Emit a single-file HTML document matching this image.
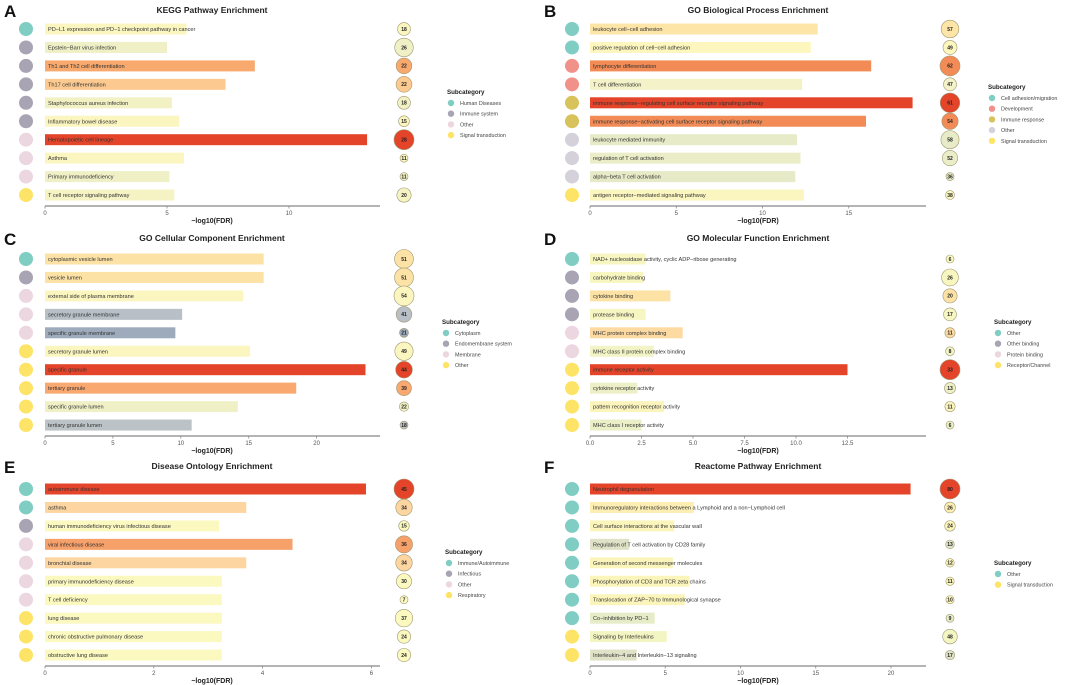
<!DOCTYPE html>
<html><head><meta charset="utf-8">
<style>
html,body{margin:0;padding:0;background:#fff;}
svg{display:block;font-family:"Liberation Sans",Arial,sans-serif;}
</style></head>
<body>
<svg id="fig" width="1080" height="685" viewBox="0 0 1080 685" xmlns="http://www.w3.org/2000/svg"></svg>
<script>
// ---- Panel A: KEGG ----
const aTerms=["PD−L1 expression and PD−1 checkpoint pathway in cancer","Epstein−Barr virus infection","Th1 and Th2 cell differentiation","Th17 cell differentiation","Staphylococcus aureus infection","Inflammatory bowel disease","Hematopoietic cell lineage","Asthma","Primary immunodeficiency","T cell receptor signaling pathway"];
const aValues=[5.8,5.0,8.6,7.4,5.2,5.5,13.2,5.7,5.1,5.3];
const aCounts=[18,26,22,22,18,15,28,11,11,20];
const aCats=[0,1,1,1,1,1,2,2,2,3];
const aCatNames=["Human Diseases","Immune system","Other","Signal transduction"];
const aTicks=[0,5,10];
// ---- Panel B: GO BP ----
const bTerms=["leukocyte cell−cell adhesion","positive regulation of cell−cell adhesion","lymphocyte differentiation","T cell differentiation","immune response−regulating cell surface receptor signaling pathway","immune response−activating cell surface receptor signaling pathway","leukocyte mediated immunity","regulation of T cell activation","alpha−beta T cell activation","antigen receptor−mediated signaling pathway"];
const bValues=[13.2,12.8,16.3,12.3,18.7,16.0,12.0,12.2,11.9,12.4];
const bCounts=[57,49,62,47,61,54,58,52,36,38];
const bCats=[0,0,1,1,2,2,3,3,3,4];
const bCatNames=["Cell adhesion/migration","Development","Immune response","Other","Signal transduction"];
const bTicks=[0,5,10,15];
// ---- Panel C: GO CC ----
const cTerms=["cytoplasmic vesicle lumen","vesicle lumen","external side of plasma membrane","secretory granule membrane","specific granule membrane","secretory granule lumen","specific granule","tertiary granule","specific granule lumen","tertiary granule lumen"];
const cValues=[16.1,16.1,14.6,10.1,9.6,15.1,23.6,18.5,14.2,10.8];
const cCounts=[51,51,54,41,21,49,44,39,22,18];
const cCats=[0,1,2,2,2,3,3,3,3,3];
const cCatNames=["Cytoplasm","Endomembrane system","Membrane","Other"];
const cTicks=[0,5,10,15,20];
// ---- Panel D: GO MF ----
const dTerms=["NAD+ nucleosidase activity, cyclic ADP−ribose generating","carbohydrate binding","cytokine binding","protease binding","MHC protein complex binding","MHC class II protein complex binding","immune receptor activity","cytokine receptor activity","pattern recognition receptor activity","MHC class I receptor activity"];
const dValues=[2.7,2.6,3.9,2.7,4.5,3.1,12.5,2.3,3.6,2.5];
const dCounts=[6,26,20,17,11,8,33,13,11,6];
const dCats=[0,1,1,1,2,2,3,3,3,3];
const dCatNames=["Other","Other binding","Protein binding","Receptor/Channel"];
const dTicks=[0,2.5,5,7.5,10,12.5];
// ---- Panel E: DO ----
const eTerms=["autoimmune disease","asthma","human immunodeficiency virus infectious disease","viral infectious disease","bronchial disease","primary immunodeficiency disease","T cell deficiency","lung disease","chronic obstructive pulmonary disease","obstructive lung disease"];
const eValues=[5.9,3.7,3.2,4.55,3.7,3.25,3.25,3.25,3.25,3.25];
const eCounts=[45,34,15,36,34,30,7,37,24,24];
const eCats=[0,0,1,2,2,2,2,3,3,3];
const eCatNames=["Immune/Autoimmune","Infectious","Other","Respiratory"];
const eTicks=[0,2,4,6];
// ---- Panel F: Reactome ----
const fTerms=["Neutrophil degranulation","Immunoregulatory interactions between a Lymphoid and a non−Lymphoid cell","Cell surface interactions at the vascular wall","Regulation of T cell activation by CD28 family","Generation of second messenger molecules","Phosphorylation of CD3 and TCR zeta chains","Translocation of ZAP−70 to Immunological synapse","Co−inhibition by PD−1","Signaling by Interleukins","Interleukin−4 and Interleukin−13 signaling"];
const fValues=[21.3,6.9,5.6,2.6,5.5,6.6,6.3,4.3,5.1,3.1];
const fCounts=[80,26,24,13,12,11,10,9,48,17];
const fCats=[0,0,0,0,0,0,0,0,1,1];
const fCatNames=["Other","Signal transduction"];
const fTicks=[0,5,10,15,20];

// fill styles per bar (colour scale as rendered in reference)
const aFill=["#fbf6c0","#eff0c6","#f7a96e","#fcca90","#f2f1c4","#fbf6bf","#e3442a","#fbf6bf","#eff0c6","#f5f3c4"];
const bFill=["#fde5a8","#fdf6be","#f38b56","#f3f2c8","#e3442a","#f38b56","#e7ebc7","#eaedc7","#e6eac6","#fbf6c0"];
const cFill=["#fde2a6","#fde2a6","#fbf6c0","#b8bfc7","#9eabbd","#fbf6c0","#e3442a","#f9a870","#f0f0c6","#bcc3c6"];
const dFill=["#f8f6c0","#f8f6c0","#fde2a6","#f6f6c2","#fddaa2","#f2f4c5","#e3442a","#edf0c6","#fbf4bd","#eaefc7"];
const eFill=["#e3442a","#fdd5a0","#fbf8c0","#f6a06a","#fdd5a0","#fbf8c0","#fbf8c0","#fbf8c0","#fbf8c0","#fbf8c0"];
const fFill=["#e3442a","#fdeeb3","#fbf5bb","#dfe2c6","#fbf5bb","#fbf5bb","#fbf5bb","#e6ecc8","#f3f5c2","#dfe2c6"];

const NS="http://www.w3.org/2000/svg";
const svg=document.getElementById('fig');
function mk(tag,attrs,parent){const e=document.createElementNS(NS,tag);for(const k in attrs)e.setAttribute(k,attrs[k]);(parent||svg).appendChild(e);return e;}

const catPal={
 "Human Diseases":"#80cdc3","Immune system":"#a9a4b4","Other":"#ecd6e0","Signal transduction":"#fde467",
 "Cell adhesion/migration":"#80cdc3","Development":"#f0918a","Immune response":"#d8c25c",
 "Cytoplasm":"#80cdc3","Endomembrane system":"#a9a4b4","Membrane":"#ecd6e0",
 "Other binding":"#a9a4b4","Protein binding":"#ecd6e0","Receptor/Channel":"#fde467",
 "Immune/Autoimmune":"#80cdc3","Infectious":"#a9a4b4","Respiratory":"#fde467"};
function catColor(name,panel){
  if(panel==='B'&&name==='Other')return '#d5d1db';
  if(panel==='C'&&name==='Other')return '#fde467';
  if((panel==='D'||panel==='F')&&name==='Other')return '#80cdc3';
  return catPal[name];
}

function panel(cfg){
  const g=mk('g',{});
  
  
  const L=mk('text',{x:cfg.ox+4,y:cfg.oy+17,'font-size':17,'font-weight':'bold',fill:'#111'},g);
  L.textContent=cfg.letter;
  
  
  const T=mk('text',{x:cfg.titleX,y:cfg.oy+13,'font-size':8.5,'font-weight':'bold','text-anchor':'middle',fill:'#222'},g);
  T.textContent=cfg.title;
  
  
  const sx=v=>cfg.x0+v*cfg.ppu;
  const sy=i=>cfg.oy+cfg.row0+i*18.45;
  const cmin=Math.min(...cfg.counts),cmax=Math.max(...cfg.counts);
  const cr=c=>4+6*(c-cmin)/Math.max(1,(cmax-cmin));
  cfg.terms.forEach((t,i)=>{
    const y=sy(i);
    const cc=mk('circle',{cx:cfg.catX,cy:y,r:7,fill:catColor(cfg.catNames[cfg.cats[i]],cfg.letter)},g);
    
    
    const b=mk('rect',{x:sx(0),y:y-5.5,width:sx(cfg.values[i])-sx(0),height:11,fill:cfg.fill[i]},g);
    
    
    const lt=mk('text',{x:sx(0)+3,y:y+2,'font-size':5.6,fill:'#333'},g);
    lt.textContent=t;
    
    
    const r=cr(cfg.counts[i]);
    const bc=mk('circle',{cx:cfg.cntX,cy:y,r:r,fill:cfg.fill[i],stroke:'#9f9870','stroke-width':0.6},g);
    
    
    const ct=mk('text',{x:cfg.cntX,y:y+1.8,'font-size':5,'font-weight':'bold','text-anchor':'middle',fill:'#222'},g);
    ct.textContent=cfg.counts[i];
    
    
  });
  const ay=cfg.oy+cfg.axisY;
  const ax=mk('line',{x1:sx(0),x2:cfg.axisEnd,y1:ay,y2:ay,stroke:'#888','stroke-width':1.2},g);
  
  
  cfg.ticks.forEach(tv=>{
    const tk=mk('line',{x1:sx(tv),x2:sx(tv),y1:ay,y2:ay+2.5,stroke:'#888','stroke-width':0.8},g);
    
    
    const tl=mk('text',{x:sx(tv),y:ay+9,'font-size':6,'text-anchor':'middle',fill:'#555'},g);
    tl.textContent=cfg.tickFmt?tv.toFixed(1):tv;
    
    
  });
  const xt=mk('text',{x:cfg.titleX,y:ay+17,'font-size':7,'font-weight':'bold','text-anchor':'middle',fill:'#222'},g);
  xt.textContent='−log10(FDR)';
  
  
  const ly=cfg.oy+cfg.legY;
  const lg=mk('text',{x:cfg.legX,y:ly,'font-size':6.2,'font-weight':'bold',fill:'#222'},g);
  lg.textContent='Subcategory';
  
  
  cfg.catNames.forEach((n,k)=>{
    const yy=ly+11+k*10.7;
    const d=mk('circle',{cx:cfg.legX+4,cy:yy-2,r:3.2,fill:catColor(n,cfg.letter)},g);
    
    
    const lt=mk('text',{x:cfg.legX+13,y:yy,'font-size':5.4,fill:'#444'},g);
    lt.textContent=n;
    
    
  });
}
const L={catX:26,x0:45,cntX:404,titleX:212};
const R={catX:572,x0:590,cntX:950,titleX:758};
panel({letter:'A',title:'KEGG Pathway Enrichment',ox:0,oy:0,...L,ppu:24.4,axisEnd:380,row0:29,axisY:206,legX:447,legY:94,ticks:aTicks,terms:aTerms,values:aValues,counts:aCounts,cats:aCats,catNames:aCatNames,fill:aFill});
panel({letter:'B',title:'GO Biological Process Enrichment',ox:540,oy:0,...R,ppu:17.25,axisEnd:926,row0:29,axisY:206,legX:988,legY:89,ticks:bTicks,terms:bTerms,values:bValues,counts:bCounts,cats:bCats,catNames:bCatNames,fill:bFill});
panel({letter:'C',title:'GO Cellular Component Enrichment',ox:0,oy:228,...L,ppu:13.58,axisEnd:380,row0:31,axisY:208,legX:442,legY:96,ticks:cTicks,terms:cTerms,values:cValues,counts:cCounts,cats:cCats,catNames:cCatNames,fill:cFill});
panel({letter:'D',title:'GO Molecular Function Enrichment',ox:540,oy:228,...R,ppu:20.6,axisEnd:926,row0:31,axisY:208,legX:994,legY:96,ticks:dTicks,tickFmt:true,terms:dTerms,values:dValues,counts:dCounts,cats:dCats,catNames:dCatNames,fill:dFill});
panel({letter:'E',title:'Disease Ontology Enrichment',ox:0,oy:456,...L,ppu:54.4,axisEnd:380,row0:33,axisY:210,legX:445,legY:98,ticks:eTicks,terms:eTerms,values:eValues,counts:eCounts,cats:eCats,catNames:eCatNames,fill:eFill});
panel({letter:'F',title:'Reactome Pathway Enrichment',ox:540,oy:456,...R,ppu:15.05,axisEnd:926,row0:33,axisY:210,legX:994,legY:109,ticks:fTicks,terms:fTerms,values:fValues,counts:fCounts,cats:fCats,catNames:fCatNames,fill:fFill});
</script>
</body></html>
